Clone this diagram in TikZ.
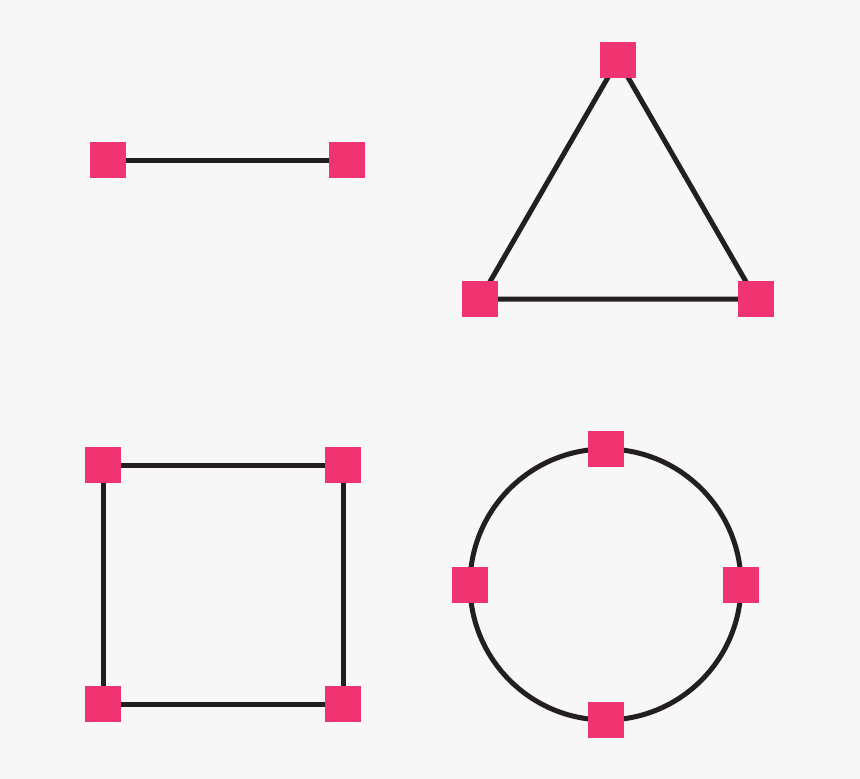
\documentclass[tikz,border=0pt]{standalone}
\usetikzlibrary{backgrounds}
\definecolor{bgc}{RGB}{247,247,247}
\definecolor{pinkc}{RGB}{239,52,113}
\definecolor{darkc}{RGB}{35,31,32}
\tikzset{
  vtx/.style={rectangle, fill=pinkc, minimum size=36pt, inner sep=0pt, draw=none},
  edge/.style={draw=darkc, line width=5pt}
}
\begin{document}
\begin{tikzpicture}[x=1pt,y=-1pt]
\useasboundingbox (0,0) rectangle (860,779);
% line
\node[vtx] (l1) at (107.5,160) {};
\node[vtx] (l2) at (347,160) {};
% triangle
\node[vtx] (t1) at (618,60) {};
\node[vtx] (t2) at (480,299) {};
\node[vtx] (t3) at (756,299) {};
% square
\node[vtx] (s1) at (103,465) {};
\node[vtx] (s2) at (343,465) {};
\node[vtx] (s3) at (343,704) {};
\node[vtx] (s4) at (103,704) {};
% circle
\coordinate (cc) at (605.5,584.5);
\node[vtx] (c1) at (605.5,449) {};
\node[vtx] (c2) at (741,584.5) {};
\node[vtx] (c3) at (605.5,720) {};
\node[vtx] (c4) at (470,584.5) {};
\begin{scope}[on background layer]
\fill[bgc] (0,0) rectangle (860,779);
\draw[edge] (l1.center) -- (l2.center);
\draw[edge] (t1.center) -- (t2.center) -- (t3.center) -- cycle;
\draw[edge] (s1.center) -- (s2.center) -- (s3.center) -- (s4.center) -- cycle;
\draw[edge] (cc) circle[radius=135.5];
\end{scope}
\end{tikzpicture}
\end{document}
